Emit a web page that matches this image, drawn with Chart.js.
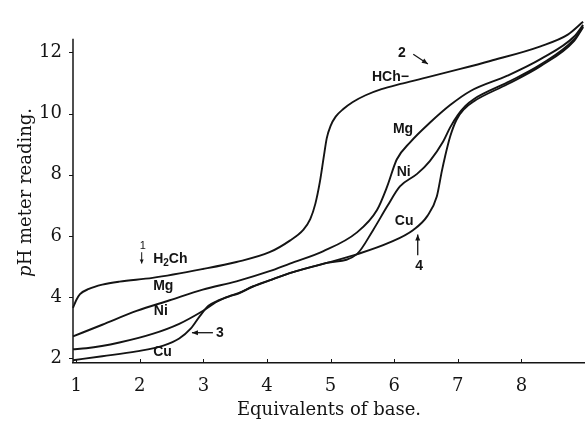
<!DOCTYPE html>
<html>
<head>
<meta charset="utf-8">
<script src="https://cdn.jsdelivr.net/npm/chart.js@4.4.1/dist/chart.umd.min.js"></script>
<style>
  html, body { margin: 0; padding: 0; background: #fff; }
  #wrap { width: 585px; height: 425px; }
</style>
</head>
<body>
<div id="wrap"><canvas id="titration"></canvas></div>
<script>
// tick labels
const xTicks = [1, 2, 3, 4, 5, 6, 7, 8];
const yTicks = [2, 4, 6, 8, 10, 12];

// curve 1: H2Ch alone
const h2chX = [0.95, 1.0, 1.06, 1.2, 1.41, 1.68, 2.2, 2.99, 3.52, 4.04, 4.36, 4.57, 4.68, 4.76, 4.83, 4.89, 4.94, 5.0, 5.08, 5.2, 5.35, 5.55, 5.8, 6.1, 6.45, 7.04, 7.51, 8.3, 8.73, 8.97];
const h2chY = [3.65, 3.9, 4.1, 4.27, 4.41, 4.51, 4.63, 4.92, 5.15, 5.47, 5.85, 6.2, 6.55, 7.05, 7.75, 8.55, 9.2, 9.6, 9.9, 10.15, 10.38, 10.6, 10.8, 10.97, 11.15, 11.46, 11.72, 12.2, 12.58, 13.0];

// with Mg
const mgX = [0.95, 1.41, 1.95, 2.47, 2.99, 3.52, 4.04, 4.36, 4.88, 5.41, 5.73, 5.89, 6.04, 6.25, 6.56, 6.88, 7.2, 7.78, 8.3, 8.83, 8.97];
const mgY = [2.72, 3.1, 3.55, 3.9, 4.25, 4.52, 4.85, 5.1, 5.5, 6.11, 6.85, 7.62, 8.5, 9.06, 9.7, 10.28, 10.74, 11.24, 11.78, 12.52, 12.9];

// with Ni
const niX = [0.95, 1.16, 1.68, 2.2, 2.62, 2.99, 3.22, 3.4, 3.55, 3.78, 4.04, 4.41, 4.94, 5.41, 5.67, 5.89, 6.09, 6.36, 6.56, 6.77, 6.88, 7.0, 7.12, 7.25, 7.78, 8.3, 8.83, 8.97];
const niY = [2.3, 2.33, 2.52, 2.8, 3.13, 3.55, 3.86, 4.02, 4.12, 4.35, 4.55, 4.82, 5.12, 5.4, 6.2, 6.97, 7.62, 8.03, 8.45, 9.09, 9.55, 9.95, 10.25, 10.47, 11.02, 11.6, 12.43, 12.85];

// with Cu
const cuX = [0.95, 1.41, 1.95, 2.37, 2.62, 2.8, 2.95, 3.08, 3.22, 3.4, 3.55, 3.78, 4.04, 4.41, 4.94, 5.41, 5.93, 6.3, 6.52, 6.67, 6.75, 6.8, 6.88, 6.98, 7.1, 7.25, 7.78, 8.3, 8.83, 8.97];
const cuY = [1.94, 2.07, 2.23, 2.42, 2.65, 2.97, 3.4, 3.72, 3.88, 4.03, 4.13, 4.35, 4.55, 4.82, 5.12, 5.4, 5.79, 6.2, 6.65, 7.29, 8.13, 8.6, 9.25, 9.8, 10.15, 10.4, 10.96, 11.55, 12.38, 12.82];

const ink = '#141414';
const serif = '"DejaVu Serif", serif';
const sans = '"Liberation Sans", Arial, sans-serif';

function pts(xs, ys) {
  return xs.map((x, i) => ({ x: x, y: ys[i] }));
}

// curve labels, placed in data units
const notes = [
  { parts: [['H'], ['2', 1], ['Ch']], x: 2.21, y: 5.24 },
  { parts: [['Mg']], x: 2.21, y: 4.35 },
  { parts: [['Ni']], x: 2.22, y: 3.55 },
  { parts: [['Cu']], x: 2.21, y: 2.2 },
  { parts: [['3']], x: 3.2, y: 2.84 },
  { parts: [['HCh\u2212']], x: 5.65, y: 11.2 },
  { parts: [['2']], x: 6.06, y: 11.96 },
  { parts: [['Mg']], x: 5.98, y: 9.5 },
  { parts: [['Ni']], x: 6.04, y: 8.08 },
  { parts: [['Cu']], x: 6.01, y: 6.48 },
  { parts: [['4']], x: 6.33, y: 5.02 },
  { parts: [['1']], x: 2.0, y: 5.68, thin: true }
];
const arrows = [
  { from: [3.15, 2.84], to: [2.82, 2.84] },
  { from: [6.3, 11.94], to: [6.53, 11.62] },
  { from: [6.37, 5.37], to: [6.37, 6.05] },
  { from: [2.03, 5.47], to: [2.03, 5.1], thin: true }
];

const decor = {
  id: 'decor',
  afterDraw(chart) {
    const { ctx, scales: { x, y } } = chart;
    ctx.save();
    ctx.strokeStyle = ink;
    ctx.fillStyle = ink;

    // left axis stops short of the top
    ctx.lineWidth = 1.5;
    ctx.beginPath();
    ctx.moveTo(x.left, y.bottom);
    ctx.lineTo(x.left, y.getPixelForValue(12.45));
    ctx.stroke();

    // small tick marks
    ctx.lineWidth = 1;
    xTicks.forEach(v => {
      const p = Math.round(x.getPixelForValue(v)) + 0.5;
      ctx.beginPath(); ctx.moveTo(p, y.bottom); ctx.lineTo(p, y.bottom - 4); ctx.stroke();
    });
    yTicks.forEach(v => {
      const p = Math.round(y.getPixelForValue(v)) + 0.5;
      ctx.beginPath(); ctx.moveTo(x.left, p); ctx.lineTo(x.left - 4, p); ctx.stroke();
    });

    // y title with italic p
    ctx.translate(26, (y.top + y.bottom) / 2);
    ctx.rotate(-Math.PI / 2);
    ctx.textBaseline = 'middle';
    ctx.font = 'italic 18px ' + serif;
    const w1 = ctx.measureText('p').width;
    ctx.font = '18px ' + serif;
    const w2 = ctx.measureText('H meter reading.').width;
    let tx = -(w1 + w2) / 2;
    ctx.font = 'italic 18px ' + serif;
    ctx.fillText('p', tx, 0);
    ctx.font = '18px ' + serif;
    ctx.fillText('H meter reading.', tx + w1, 0);
    ctx.setTransform(1, 0, 0, 1, 0, 0);

    // labels on the curves
    ctx.textBaseline = 'middle';
    notes.forEach(n => {
      let px = x.getPixelForValue(n.x);
      const py = y.getPixelForValue(n.y);
      n.parts.forEach(([t, sub]) => {
        ctx.font = n.thin ? '11px ' + sans : (sub ? 'bold 10px ' : 'bold 14px ') + sans;
        ctx.fillText(t, px, sub ? py + 4 : py);
        px += ctx.measureText(t).width;
      });
    });

    // arrows
    arrows.forEach(a => {
      const x0 = x.getPixelForValue(a.from[0]), y0 = y.getPixelForValue(a.from[1]);
      const x1 = x.getPixelForValue(a.to[0]), y1 = y.getPixelForValue(a.to[1]);
      const ang = Math.atan2(y1 - y0, x1 - x0);
      const len = a.thin ? 4 : 6, wid = a.thin ? 2 : 2.5;
      ctx.lineWidth = a.thin ? 1 : 1.3;
      ctx.beginPath(); ctx.moveTo(x0, y0); ctx.lineTo(x1, y1); ctx.stroke();
      ctx.beginPath();
      ctx.moveTo(x1, y1);
      ctx.lineTo(x1 - len * Math.cos(ang) + wid * Math.sin(ang), y1 - len * Math.sin(ang) - wid * Math.cos(ang));
      ctx.lineTo(x1 - len * Math.cos(ang) - wid * Math.sin(ang), y1 - len * Math.sin(ang) + wid * Math.cos(ang));
      ctx.closePath();
      ctx.fill();
    });
    ctx.restore();
  }
};

const curve = (label, xs, ys) => ({
  label: label,
  data: pts(xs, ys),
  borderColor: ink,
  borderWidth: 1.9,
  pointRadius: 0,
  cubicInterpolationMode: 'monotone',
  clip: 4
});

new Chart(document.getElementById('titration'), {
  type: 'line',
  data: {
    datasets: [
      curve('H2Ch', h2chX, h2chY),
      curve('Mg', mgX, mgY),
      curve('Ni', niX, niY),
      curve('Cu', cuX, cuY)
    ]
  },
  options: {
    responsive: true,
    maintainAspectRatio: false,
    animation: false,
    layout: { padding: { top: 15, left: 0, right: 0, bottom: 0 } },
    plugins: {
      legend: { display: false },
      tooltip: { enabled: false }
    },
    scales: {
      x: {
        type: 'linear',
        min: 0.95,
        max: 9.0,
        afterBuildTicks: s => { s.ticks = xTicks.map(v => ({ value: v })); },
        afterFit: s => { s.height = 62; },
        grid: { display: false, drawTicks: false },
        border: { display: true, color: ink, width: 1.5 },
        ticks: {
          color: ink,
          padding: 13,
          maxRotation: 0,
          autoSkip: false,
          font: { family: serif, size: 18 }
        },
        title: {
          display: true,
          text: 'Equivalents of base.',
          color: ink,
          font: { family: serif, size: 18 },
          padding: { top: 0, bottom: 4 }
        }
      },
      y: {
        type: 'linear',
        min: 1.85,
        max: 13.0,
        afterBuildTicks: s => { s.ticks = yTicks.map(v => ({ value: v })); },
        afterFit: s => { s.width = 73; },
        grid: { display: false, drawTicks: false },
        border: { display: false },
        ticks: {
          color: ink,
          padding: 11,
          autoSkip: false,
          font: { family: serif, size: 18 }
        }
      }
    }
  },
  plugins: [decor]
});
</script>
</body>
</html>
